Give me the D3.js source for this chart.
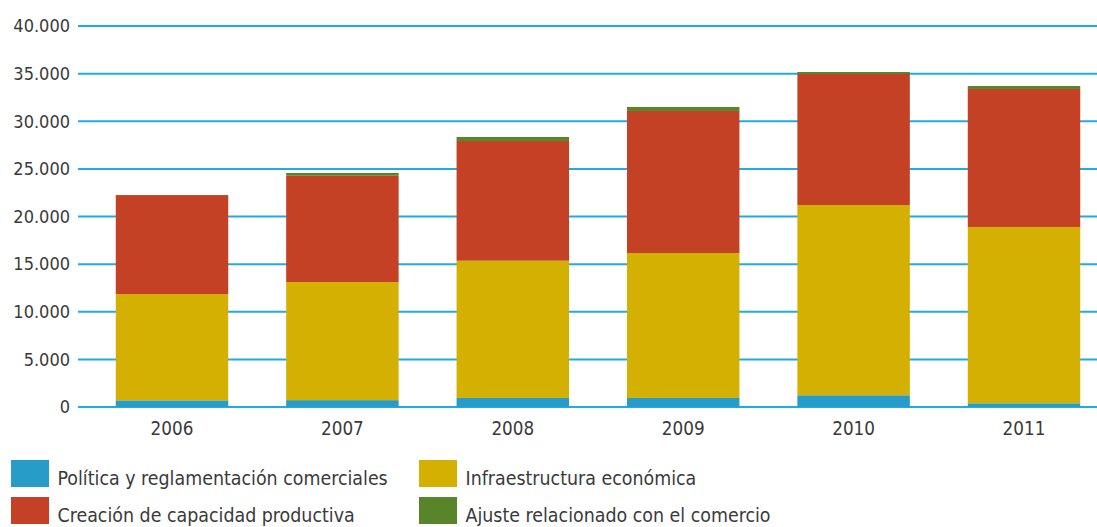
<!DOCTYPE html>
<html>
<head>
<meta charset="utf-8">
<script src="https://cdn.jsdelivr.net/npm/d3@7"></script>
<style>
  html, body { margin: 0; padding: 0; background: #fff; }
  svg { display: block; }
  text { font-family: "DejaVu Sans Condensed", "Open Sans", sans-serif; fill: #3a3a3a; }
</style>
</head>
<body>
<svg id="chart" width="1097" height="527"></svg>
<script>
const years = ["2006", "2007", "2008", "2009", "2010", "2011"];
const seriesNames = [
  "Política y reglamentación comerciales",
  "Infraestructura económica",
  "Creación de capacidad productiva",
  "Ajuste relacionado con el comercio"
];
const politica = [700, 720, 950, 950, 1230, 390];
const infraestructura = [11160, 12400, 14410, 15220, 19980, 18510];
const creacion = [10390, 11160, 12570, 14910, 13750, 14490];
const ajuste = [0, 290, 420, 420, 210, 310];
const yTicks = [0, 5000, 10000, 15000, 20000, 25000, 30000, 35000, 40000];
const colors = ["#279cc9", "#d4b003", "#c54126", "#58852a"];

const rows = years.map((y, i) => ({
  year: y,
  s0: politica[i], s1: infraestructura[i], s2: creacion[i], s3: ajuste[i]
}));
const keys = ["s0", "s1", "s2", "s3"];
const stacked = d3.stack().keys(keys)(rows);

const svg = d3.select("#chart");
const plotLeft = 78, plotRight = 1097, plotTop = 26, plotBottom = 407;

const y = d3.scaleLinear().domain([0, 40000]).range([plotBottom, plotTop]);
const x = d3.scaleBand().domain(years).range([86.8, 1109.2]).paddingInner(0.34).paddingOuter(0.17);

const fmt = v => d3.format(",")(v).replace(/,/g, ".");
const fontFam = "'DejaVu Sans Condensed', 'Open Sans', sans-serif";

// gridlines
svg.append("g").selectAll("line.grid").data(yTicks).enter().append("line")
  .attr("class", "grid")
  .attr("x1", plotLeft).attr("x2", plotRight)
  .attr("y1", d => y(d)).attr("y2", d => y(d))
  .attr("stroke", "#22abe2").attr("stroke-width", 2);

const yAxis = d3.axisLeft(y).tickValues(yTicks).tickFormat(fmt).tickSize(0).tickPadding(0);
const ax = svg.append("g").attr("transform", `translate(70,0)`).call(yAxis);
ax.select(".domain").remove();
ax.selectAll("text").attr("font-size", 18).attr("fill", "#3a3a3a").attr("font-family", fontFam);

// bars
svg.append("g").selectAll("g").data(stacked).enter().append("g")
  .attr("fill", (d, i) => colors[i])
  .selectAll("rect").data(d => d).enter().append("rect")
  .attr("x", d => x(d.data.year))
  .attr("width", x.bandwidth())
  .attr("y", d => y(d[1]))
  .attr("height", d => y(d[0]) - y(d[1]));

// x axis labels
const xAxis = d3.axisBottom(x).tickSize(0).tickPadding(0);
const gx = svg.append("g").attr("transform", `translate(0,${plotBottom + 15})`).call(xAxis);
gx.select(".domain").remove();
gx.selectAll("text").attr("font-size", 18.7).attr("fill", "#3a3a3a").attr("font-family", fontFam);

// legend
const legendPos = [[11, 460], [419, 460], [11, 497], [419, 497]];
const lg = svg.append("g");
seriesNames.forEach((name, k) => {
  const [lx, ly] = legendPos[k];
  lg.append("rect").attr("x", lx).attr("y", ly).attr("width", 38).attr("height", 27).attr("fill", colors[k]);
  lg.append("text").attr("x", lx + 46.5).attr("y", ly + 24.5).attr("font-size", 19.4).text(name);
});
</script>
</body>
</html>
